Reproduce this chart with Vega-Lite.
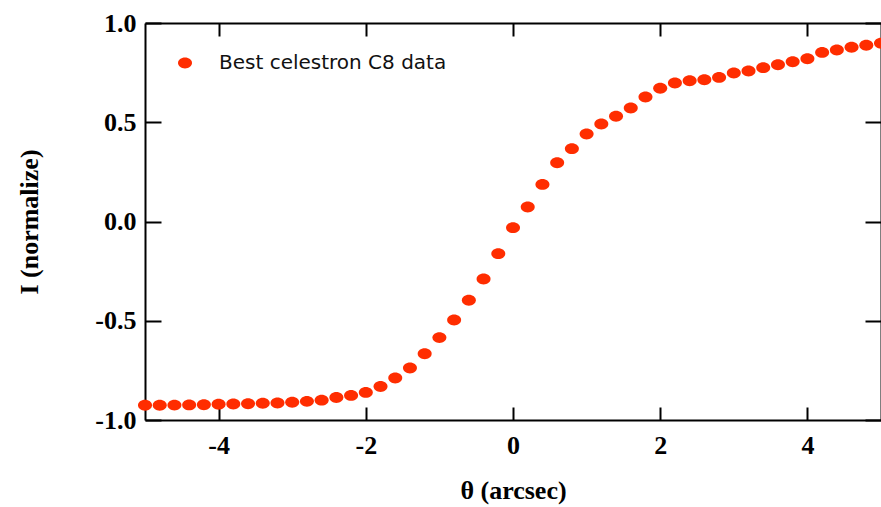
{
  "$schema": "https://vega.github.io/schema/vega-lite/v6.json",
  "width": 736,
  "height": 397,
  "autosize": {"type": "none"},
  "padding": {"left": 145, "top": 23, "right": 0, "bottom": 87},
  "background": "white",
  "config": {
    "view": {"stroke": null},
    "axis": {
      "grid": false,
      "domainColor": "black",
      "domainWidth": 2,
      "tickColor": "black",
      "tickWidth": 2,
      "labelFont": "Liberation Serif",
      "labelFontWeight": "bold",
      "labelFontSize": 26,
      "labelColor": "black",
      "titleFont": "Liberation Serif",
      "titleFontWeight": "bold",
      "titleFontSize": 26,
      "titleColor": "black"
    }
  },
  "data": {
    "values": [
      {"theta": -5.0, "I": -0.926, "series": "Best celestron C8 data"},
      {"theta": -4.8, "I": -0.926, "series": "Best celestron C8 data"},
      {"theta": -4.6, "I": -0.925, "series": "Best celestron C8 data"},
      {"theta": -4.4, "I": -0.924, "series": "Best celestron C8 data"},
      {"theta": -4.2, "I": -0.923, "series": "Best celestron C8 data"},
      {"theta": -4.0, "I": -0.921, "series": "Best celestron C8 data"},
      {"theta": -3.8, "I": -0.919, "series": "Best celestron C8 data"},
      {"theta": -3.6, "I": -0.918, "series": "Best celestron C8 data"},
      {"theta": -3.4, "I": -0.916, "series": "Best celestron C8 data"},
      {"theta": -3.2, "I": -0.914, "series": "Best celestron C8 data"},
      {"theta": -3.0, "I": -0.911, "series": "Best celestron C8 data"},
      {"theta": -2.8, "I": -0.906, "series": "Best celestron C8 data"},
      {"theta": -2.6, "I": -0.900, "series": "Best celestron C8 data"},
      {"theta": -2.4, "I": -0.887, "series": "Best celestron C8 data"},
      {"theta": -2.2, "I": -0.876, "series": "Best celestron C8 data"},
      {"theta": -2.0, "I": -0.861, "series": "Best celestron C8 data"},
      {"theta": -1.8, "I": -0.831, "series": "Best celestron C8 data"},
      {"theta": -1.6, "I": -0.788, "series": "Best celestron C8 data"},
      {"theta": -1.4, "I": -0.738, "series": "Best celestron C8 data"},
      {"theta": -1.2, "I": -0.666, "series": "Best celestron C8 data"},
      {"theta": -1.0, "I": -0.585, "series": "Best celestron C8 data"},
      {"theta": -0.8, "I": -0.496, "series": "Best celestron C8 data"},
      {"theta": -0.6, "I": -0.397, "series": "Best celestron C8 data"},
      {"theta": -0.4, "I": -0.290, "series": "Best celestron C8 data"},
      {"theta": -0.2, "I": -0.162, "series": "Best celestron C8 data"},
      {"theta": 0.0, "I": -0.031, "series": "Best celestron C8 data"},
      {"theta": 0.2, "I": 0.073, "series": "Best celestron C8 data"},
      {"theta": 0.4, "I": 0.187, "series": "Best celestron C8 data"},
      {"theta": 0.6, "I": 0.296, "series": "Best celestron C8 data"},
      {"theta": 0.8, "I": 0.367, "series": "Best celestron C8 data"},
      {"theta": 1.0, "I": 0.441, "series": "Best celestron C8 data"},
      {"theta": 1.2, "I": 0.491, "series": "Best celestron C8 data"},
      {"theta": 1.4, "I": 0.530, "series": "Best celestron C8 data"},
      {"theta": 1.6, "I": 0.572, "series": "Best celestron C8 data"},
      {"theta": 1.8, "I": 0.627, "series": "Best celestron C8 data"},
      {"theta": 2.0, "I": 0.671, "series": "Best celestron C8 data"},
      {"theta": 2.2, "I": 0.698, "series": "Best celestron C8 data"},
      {"theta": 2.4, "I": 0.709, "series": "Best celestron C8 data"},
      {"theta": 2.6, "I": 0.714, "series": "Best celestron C8 data"},
      {"theta": 2.8, "I": 0.726, "series": "Best celestron C8 data"},
      {"theta": 3.0, "I": 0.748, "series": "Best celestron C8 data"},
      {"theta": 3.2, "I": 0.758, "series": "Best celestron C8 data"},
      {"theta": 3.4, "I": 0.775, "series": "Best celestron C8 data"},
      {"theta": 3.6, "I": 0.790, "series": "Best celestron C8 data"},
      {"theta": 3.8, "I": 0.805, "series": "Best celestron C8 data"},
      {"theta": 4.0, "I": 0.820, "series": "Best celestron C8 data"},
      {"theta": 4.2, "I": 0.852, "series": "Best celestron C8 data"},
      {"theta": 4.4, "I": 0.864, "series": "Best celestron C8 data"},
      {"theta": 4.6, "I": 0.878, "series": "Best celestron C8 data"},
      {"theta": 4.8, "I": 0.888, "series": "Best celestron C8 data"},
      {"theta": 5.0, "I": 0.898, "series": "Best celestron C8 data"}
    ]
  },
  "layer": [
    {
      "mark": {"type": "point", "filled": true, "opacity": 1, "size": 196, "shape": "M-1,0A1,0.78 0 1,0 1,0A1,0.78 0 1,0 -1,0Z", "clip": false},
      "encoding": {
        "x": {
          "field": "theta", "type": "quantitative",
          "scale": {"domain": [-5, 5], "nice": false, "zero": false},
          "axis": {
            "orient": "bottom", "title": "θ (arcsec)", "values": [-4, -2, 0, 2, 4],
            "tickSize": -13, "labelPadding": 25, "titlePadding": 19,
            "labelExpr": "replace(datum.label, '\u2212', '-')"
          }
        },
        "y": {
          "field": "I", "type": "quantitative",
          "scale": {"domain": [-1, 1], "nice": false, "zero": false},
          "axis": {
            "orient": "left", "title": "I (normalize)", "values": [-1, -0.5, 0, 0.5, 1],
            "format": ".1f", "tickSize": -16, "labelPadding": 25, "titlePadding": 52,
            "labelExpr": "replace(datum.label, '\u2212', '-')"
          }
        },
        "color": {
          "field": "series", "type": "nominal",
          "scale": {"domain": ["Best celestron C8 data"], "range": ["#ff2d00"]},
          "legend": {
            "orient": "none", "legendX": 30, "legendY": 30, "title": null,
            "padding": 0, "symbolType": "M-1,0A1,0.78 0 1,0 1,0A1,0.78 0 1,0 -1,0Z",
            "symbolSize": 196, "symbolOpacity": 1, "symbolStrokeWidth": 0,
            "labelFont": "DejaVu Sans", "labelFontSize": 20, "labelColor": "#111111",
            "labelOffset": 24, "labelLimit": 0
          }
        }
      }
    },
    {
      "mark": {"type": "point", "opacity": 0},
      "encoding": {
        "x": {
          "field": "theta", "type": "quantitative",
          "axis": {"orient": "top", "title": null, "labels": false, "values": [-4, -2, 0, 2, 4], "tickSize": -13}
        },
        "y": {
          "field": "I", "type": "quantitative",
          "axis": {"orient": "right", "title": null, "labels": false, "values": [-1, -0.5, 0, 0.5, 1], "tickSize": -16}
        }
      }
    }
  ]
}
